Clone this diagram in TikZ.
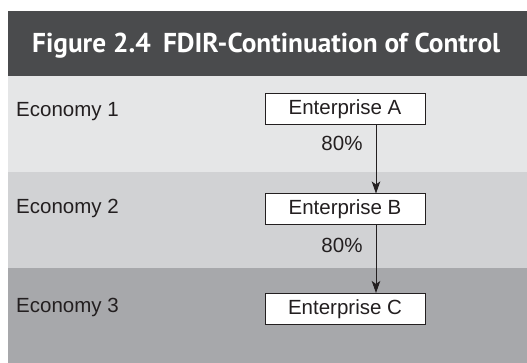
\documentclass[tikz,border=0pt]{standalone}
\usepackage{fontspec}
\setmainfont{Liberation Sans}
\newfontfamily\titlefont{PT Sans}
\usetikzlibrary{arrows.meta}
\definecolor{hdr}{HTML}{4A4B4D}
\definecolor{bandA}{HTML}{E5E6E7}
\definecolor{bandB}{HTML}{D1D2D4}
\definecolor{bandC}{HTML}{A7A8AB}
\definecolor{ink}{HTML}{231F20}
\tikzset{
  entbox/.style={draw=ink, line width=1pt, fill=white, minimum width=160pt, minimum height=31pt, inner sep=0pt, font=\fontsize{20.5}{24}\selectfont, text=ink},
  econ/.style={anchor=west, inner sep=0pt, font=\fontsize{20.5}{24}\selectfont, text=ink},
  pct/.style={inner sep=0pt, font=\fontsize{20.5}{24}\selectfont, text=ink},
  ctrl/.style={draw=ink, line width=0.9pt, -{Stealth[length=12pt,width=8.5pt,inset=3pt]}}
}
\begin{document}
\begin{tikzpicture}[x=1pt,y=1pt]
\useasboundingbox (0,0) rectangle (527,363);
\fill[white] (0,0) rectangle (527,363);
\fill[hdr] (8,287) rectangle (527,352);
\fill[bandA] (8,191) rectangle (527,287);
\fill[bandB] (8,95) rectangle (527,191);
\fill[bandC] (8,0) rectangle (527,95);
\node[anchor=base west, inner sep=0pt, text=white] (title) at (32,310) {\resizebox{468pt}{!}{\titlefont\bfseries\fontsize{26}{30}\selectfont Figure 2.4\hspace{0.45em}FDIR-Continuation of Control}};
\node[econ] (e1) at (16,251) {Economy 1};
\node[econ] (e2) at (16,155) {Economy 2};
\node[econ] (e3) at (16,56) {Economy 3};
\node[entbox] (A) at (345,253.5) {Enterprise A};
\node[entbox] (B) at (345,153.5) {Enterprise B};
\node[entbox] (C) at (345,54) {Enterprise C};
\coordinate (ax) at (376,0);
\draw[ctrl] (A.south -| ax) -- (B.north -| ax);
\draw[ctrl] (B.south -| ax) -- (C.north -| ax);
\node[pct] (p1) at (342,220) {80\%};
\node[pct] (p2) at (342,118) {80\%};
\end{tikzpicture}
\end{document}
